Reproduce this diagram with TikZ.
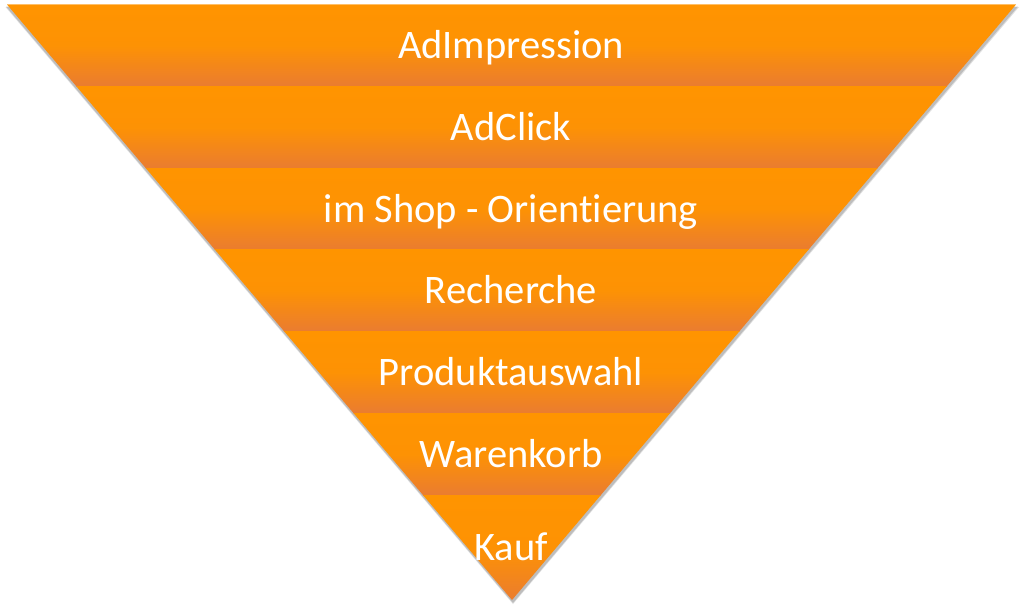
\documentclass[tikz,border=0pt]{standalone}
\usepackage{fontspec}
\setmainfont{Carlito}[Ligatures={NoCommon}]
\definecolor{obright}{RGB}{255,148,0}
\definecolor{odark}{RGB}{234,124,48}
\definecolor{shadowgray}{RGB}{150,150,150}
\tikzset{
  band/.style={top color=obright, bottom color=odark, middle color=obright!92!odark},
  label/.style={text=white, font=\fontsize{40.5}{44}\selectfont, anchor=base, inner sep=0pt},
}
\begin{document}
\begin{tikzpicture}[x=1pt,y=-1pt]
\useasboundingbox (0,0) rectangle (1024,611);
\fill[white] (0,0) rectangle (1024,611);
% shadow
\fill[shadowgray, opacity=0.45] (6,6.5) -- (1018,6.5) -- (513,603) -- cycle;
\fill[shadowgray, opacity=0.3] (5.5,7) -- (1019,7) -- (513,604) -- cycle;
\begin{scope}
  \clip (7,4.5) -- (1016,4.5) -- (512,600) -- cycle;
  \foreach \a/\b in {4.5/86, 86/168, 168/249.5, 249.5/331, 331/413, 413/495, 495/601}{
    \shade[band] (0,\a) rectangle (1024,\b);
  }
\end{scope}
\draw[obright!60!white, line width=0.6pt] (7,4.5) -- (1016,4.5);
\node[label] (n1) at (511,58) {AdImpression};
\node[label] (n2) at (511,140) {AdClick};
\node[label] (n3) at (511,222) {im Shop - Orient\kern0pt ierung};
\node[label] (n4) at (511,303) {Recherche};
\node[label] (n5) at (511,385) {Produktauswahl};
\node[label] (n6) at (511,467) {Warenkorb};
\node[label] (n7) at (511,560) {Kauf};
\end{tikzpicture}
\end{document}
